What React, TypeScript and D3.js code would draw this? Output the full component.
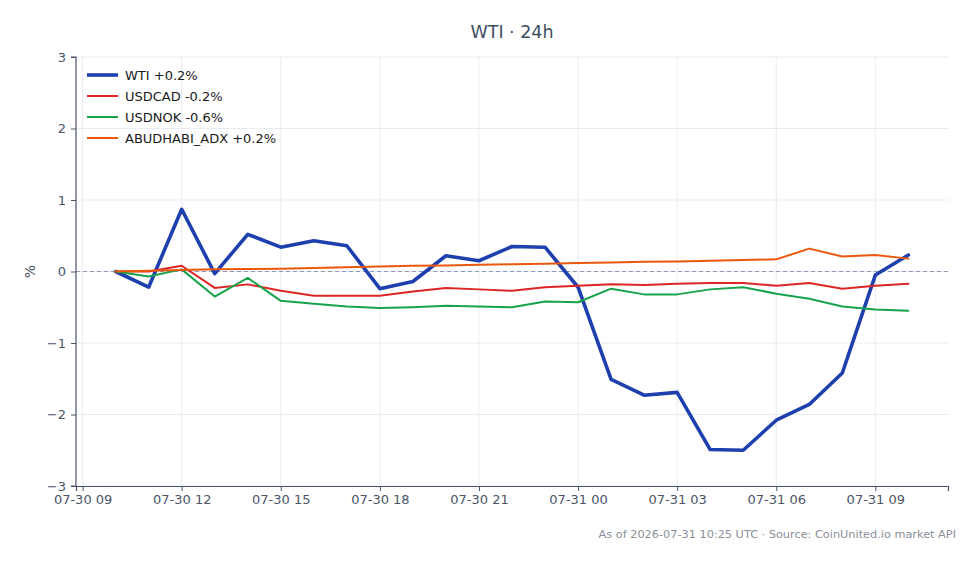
import React, { useEffect, useRef } from "react";
import * as d3 from "d3";

// Hourly timestamps (UTC)
const times = [
  "2026-07-30T10:00:00Z", "2026-07-30T11:00:00Z", "2026-07-30T12:00:00Z", "2026-07-30T13:00:00Z",
  "2026-07-30T14:00:00Z", "2026-07-30T15:00:00Z", "2026-07-30T16:00:00Z", "2026-07-30T17:00:00Z",
  "2026-07-30T18:00:00Z", "2026-07-30T19:00:00Z", "2026-07-30T20:00:00Z", "2026-07-30T21:00:00Z",
  "2026-07-30T22:00:00Z", "2026-07-30T23:00:00Z", "2026-07-31T00:00:00Z", "2026-07-31T01:00:00Z",
  "2026-07-31T02:00:00Z", "2026-07-31T03:00:00Z", "2026-07-31T04:00:00Z", "2026-07-31T05:00:00Z",
  "2026-07-31T06:00:00Z", "2026-07-31T07:00:00Z", "2026-07-31T08:00:00Z", "2026-07-31T09:00:00Z",
  "2026-07-31T10:00:00Z",
];

// % change since the first hour
const wti = [0, -0.22, 0.87, -0.03, 0.52, 0.34, 0.43, 0.36, -0.24, -0.14, 0.22, 0.15, 0.35, 0.34,
  -0.22, -1.51, -1.73, -1.69, -2.49, -2.5, -2.08, -1.86, -1.42, -0.05, 0.23];
const usdcad = [0, 0.0, 0.08, -0.23, -0.18, -0.27, -0.34, -0.34, -0.34, -0.28, -0.23, -0.25, -0.27, -0.22,
  -0.2, -0.18, -0.19, -0.17, -0.16, -0.16, -0.2, -0.16, -0.24, -0.2, -0.17];
const usdnok = [0, -0.07, 0.03, -0.35, -0.09, -0.41, -0.45, -0.49, -0.51, -0.5, -0.48, -0.49, -0.5, -0.42,
  -0.43, -0.24, -0.32, -0.32, -0.25, -0.22, -0.31, -0.38, -0.49, -0.53, -0.55];
const adx = [0, 0.01, 0.02, 0.03, 0.035, 0.04, 0.05, 0.06, 0.07, 0.08, 0.085, 0.095, 0.1, 0.11,
  0.12, 0.125, 0.135, 0.14, 0.15, 0.16, 0.17, 0.32, 0.21, 0.23, 0.18];

const seriesNames = ["WTI", "USDCAD", "USDNOK", "ABUDHABI_ADX"];
const seriesLabels = ["WTI +0.2%", "USDCAD -0.2%", "USDNOK -0.6%", "ABUDHABI_ADX +0.2%"];
const seriesValues = [wti, usdcad, usdnok, adx];
const seriesColors = ["#1e40af", "#dc2626", "#16a34a", "#ea580c"];
const seriesWidths = [3.6, 2, 2, 2];

const yTicks = [-3, -2, -1, 0, 1, 2, 3];

const W = 980;
const H = 564;
const FONT = "DejaVu Sans, sans-serif";

export default function App() {
  const ref = useRef<SVGSVGElement>(null);

  useEffect(() => {
    const svg = d3.select(ref.current);
    svg.selectAll("*").remove();

    const left = 76, right = 948, top = 57, bottom = 486;
    const dates = times.map((t) => new Date(t));
    const ext = d3.extent(dates) as [Date, Date];
    const span = ext[1].getTime() - ext[0].getTime();
    const x = d3.scaleUtc()
      .domain([new Date(ext[0].getTime() - span * 0.05), new Date(ext[1].getTime() + span * 0.05)])
      .range([left, right]);
    const y = d3.scaleLinear().domain([-3, 3]).range([bottom, top]);

    const xTicks = x.ticks(d3.utcHour.every(3)!);
    const fmt = d3.utcFormat("%m-%d %H");

    // gridlines
    const grid = svg.append("g");
    grid.selectAll("line.gx").data(xTicks).join("line")
      .attr("x1", (d) => x(d)).attr("x2", (d) => x(d))
      .attr("y1", top).attr("y2", bottom)
      .attr("stroke", "#e8ebf0").attr("stroke-width", 1);
    grid.selectAll("line.gy").data(yTicks).join("line")
      .attr("x1", left).attr("x2", right)
      .attr("y1", (d) => y(d)).attr("y2", (d) => y(d))
      .attr("stroke", "#e8ebf0").attr("stroke-width", 1);

    // zero reference
    svg.append("line")
      .attr("x1", left).attr("x2", right)
      .attr("y1", y(0)).attr("y2", y(0))
      .attr("stroke", "#8c9ab4").attr("stroke-width", 1)
      .attr("stroke-dasharray", "4,3");

    // series
    const line = d3.line<number>()
      .x((_, i) => x(dates[i]))
      .y((d) => y(d));
    seriesValues.forEach((vals, k) => {
      svg.append("path")
        .datum(vals)
        .attr("d", line)
        .attr("fill", "none")
        .attr("stroke", seriesColors[k])
        .attr("stroke-width", seriesWidths[k])
        .attr("stroke-linejoin", "round")
        .attr("stroke-linecap", "round");
    });

    // axes
    const axisColor = "#4a5568";
    const yAxis = svg.append("g").attr("transform", `translate(${left},0)`)
      .call(d3.axisLeft(y).tickValues(yTicks).tickSize(5).tickPadding(5).tickFormat(d3.format("d")));
    const xAxis = svg.append("g").attr("transform", `translate(0,${bottom})`)
      .call(d3.axisBottom(x).tickValues(xTicks).tickSize(5).tickPadding(4).tickFormat((d) => fmt(d as Date)));
    [yAxis, xAxis].forEach((g) => {
      g.select(".domain").attr("stroke", axisColor).attr("stroke-width", 1.2);
      g.selectAll(".tick line").attr("stroke", axisColor);
      g.selectAll(".tick text").attr("fill", axisColor).style("font-family", FONT).style("font-size", "13px");
    });
    yAxis.select(".domain").attr("d", `M-5,${top}H0V${bottom}H-5`);

    // y label
    svg.append("text")
      .attr("transform", `translate(35,${y(0)}) rotate(-90)`)
      .attr("text-anchor", "middle")
      .attr("fill", axisColor)
      .style("font-family", FONT).style("font-size", "14px")
      .text("%");

    // title
    svg.append("text")
      .attr("x", (left + right) / 2).attr("y", 38)
      .attr("text-anchor", "middle")
      .attr("fill", "#3f4d63")
      .style("font-family", FONT).style("font-size", "17.5px")
      .text("WTI · 24h");

    // legend
    const lg = svg.append("g").attr("transform", `translate(87,75)`);
    seriesNames.forEach((_, k) => {
      const row = lg.append("g").attr("transform", `translate(0,${k * 21})`);
      row.append("line").attr("x1", 0).attr("x2", 31).attr("y1", 0).attr("y2", 0)
        .attr("stroke", seriesColors[k]).attr("stroke-width", seriesWidths[k]);
      row.append("text").attr("x", 38).attr("y", 0).attr("dy", "0.35em")
        .attr("fill", "#1a1a1a")
        .style("font-family", FONT).style("font-size", "13px")
        .text(seriesLabels[k]);
    });

    // footer
    svg.append("text")
      .attr("x", 956).attr("y", 538)
      .attr("text-anchor", "end")
      .attr("fill", "#8a8f98")
      .style("font-family", FONT).style("font-size", "11.3px")
      .text("As of 2026-07-31 10:25 UTC · Source: CoinUnited.io market API");
  }, []);

  return (
    <svg
      ref={ref}
      width={W}
      height={H}
      style={{ position: "absolute", left: 0, top: 0, background: "#ffffff", display: "block" }}
    />
  );
}
